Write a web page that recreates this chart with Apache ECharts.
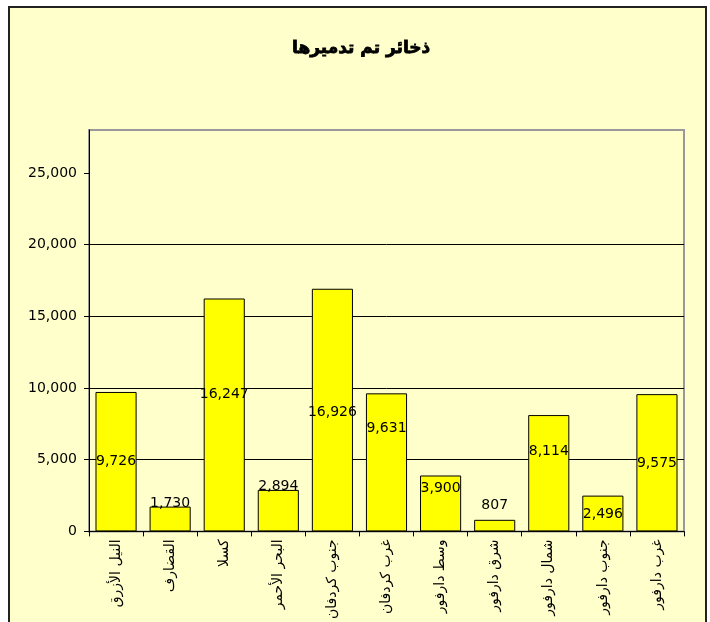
<!DOCTYPE html>
<html>
<head>
<meta charset="utf-8">
<script src="https://cdn.jsdelivr.net/npm/echarts@6/dist/echarts.min.js"></script>
<style>
  html, body { margin: 0; padding: 0; background: #fff; }
  #chart { width: 710px; height: 622px; }
</style>
</head>
<body>
<div id="chart"></div>
<script>
const titleText = 'ذخائر تم تدميرها';
const regions = ['النيل الأزرق', 'القضارف', 'كسلا', 'البحر الأحمر', 'جنوب كردفان', 'غرب كردفان',
  'وسط دارفور', 'شرق دارفور', 'شمال دارفور', 'جنوب دارفور', 'غرب دارفور'];
const destroyed = [9726, 1730, 16247, 2894, 16926, 9631, 3900, 807, 8114, 2496, 9575];
const yTicks = [0, 5000, 10000, 15000, 20000, 25000];

// label nudges (px) so the value labels sit where the original had them
const labelShift = [0, -16, -21, -24, 2, -34, -15, -20, -22, 1, 1];

const fmt = v => Number(v).toLocaleString('en-US');
const font = 'DejaVu Sans';

const chart = echarts.init(document.getElementById('chart'));

const option = {
  backgroundColor: '#fff',
  animation: false,
  graphic: [{
    type: 'rect',
    z: -10,
    shape: { x: 9, y: 7, width: 697, height: 640 },
    style: { fill: '#FFFFCC', stroke: '#222', lineWidth: 2 }
  }],
  title: {
    text: titleText,
    left: 287,
    top: 35,
    textStyle: {
      fontFamily: font, fontSize: 17, fontWeight: 'bold', color: '#000',
      textBorderColor: '#000', textBorderWidth: 0.8
    }
  },
  grid: {
    left: 89,
    right: 26,
    top: 130,
    bottom: 90,
    show: true,
    backgroundColor: '#FFFFCC',
    borderColor: '#999',
    borderWidth: 2
  },
  xAxis: {
    type: 'category',
    data: regions,
    axisLine: { lineStyle: { color: '#000', width: 1 } },
    axisTick: { show: true, length: 5, lineStyle: { color: '#000' } },
    axisLabel: {
      interval: 0,
      rotate: 90,
      margin: 8,
      fontFamily: font,
      fontSize: 14,
      color: '#000'
    }
  },
  yAxis: {
    type: 'value',
    min: 0,
    max: 28000,
    interval: 5000,
    axisLine: { show: true, lineStyle: { color: '#000', width: 1 } },
    axisTick: { show: true, length: 5, customValues: yTicks, lineStyle: { color: '#000' } },
    splitLine: { show: true, showMaxLine: false, lineStyle: { color: '#000', width: 1 } },
    axisLabel: {
      customValues: yTicks,
      formatter: v => fmt(v),
      margin: 12,
      fontFamily: font,
      fontSize: 14,
      color: '#000'
    }
  },
  series: [{
    type: 'bar',
    barCategoryGap: '24%',
    itemStyle: { color: '#FFFF00', borderColor: '#000', borderWidth: 1 },
    label: {
      show: true,
      position: 'inside',
      formatter: p => fmt(p.value),
      fontFamily: font,
      fontSize: 14,
      color: '#000'
    },
    data: destroyed.map((v, i) => ({ value: v, label: { offset: [0, labelShift[i]] } }))
  }]
};

chart.setOption(option);
</script>
</body>
</html>
